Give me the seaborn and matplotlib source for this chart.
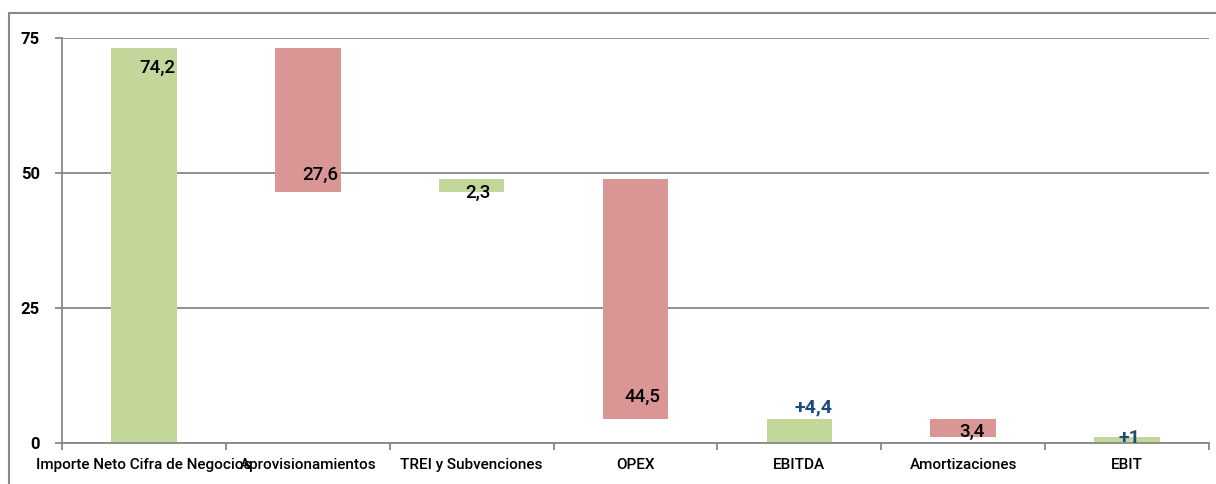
import matplotlib
matplotlib.use("Agg")
import matplotlib.pyplot as plt
import seaborn as sns
import pandas as pd
from matplotlib.lines import Line2D

# ---- data ----
categories = ["Importe Neto Cifra de Negocios", "Aprovisionamientos", "TREI y Subvenciones",
              "OPEX", "EBITDA", "Amortizaciones", "EBIT"]
bar_low = [0.0, 46.5, 46.5, 4.4, 0.0, 1.05, 0.0]
bar_high = [73.15, 73.15, 48.8, 48.8, 4.4, 4.4, 1.05]
kind = ["up", "down", "up", "down", "up", "down", "up"]
labels = ["74,2", "27,6", "2,3", "44,5", "+4,4", "3,4", "+1"]
label_kind = ["plain", "plain", "plain", "plain", "result", "plain", "result"]
y_ticks = [0, 25, 50, 75]

# ---- layout / style ----
GREEN = "#C4D79B"
RED = "#DA9694"
BLUE = "#1F497D"
GREY = "#888888"
label_dx = [0.085, 0.076, 0.04, 0.04, 0.085, 0.055, 0.012]
label_anchor = ["high", "low", "low", "low", "high", "low", "high"]
label_dy = [-3.75, 3.1, -0.2, 4.1, 2.1, 0.95, -0.15]

sns.set_theme(style="white")
plt.rcParams["font.family"] = ["Roboto", "DejaVu Sans"]

W, H = 1216, 484
fig = plt.figure(figsize=(W / 100, H / 100), dpi=100)
ax = fig.add_axes([62 / W, 1 - 443 / H, (1209 - 62) / W, (443 - 38) / H])

df = pd.DataFrame({"cat": categories, "low": bar_low, "high": bar_high, "kind": kind})
df["height"] = df["high"] - df["low"]

for k, col in [("up", GREEN), ("down", RED)]:
    sub = df[df["kind"] == k]
    sns.barplot(x=sub["cat"].tolist(), y=sub["height"].tolist(), order=categories,
                bottom=sub["low"].values, color=col, width=0.4, errorbar=None,
                saturation=1, ax=ax, zorder=2, linewidth=0)

ax.set_ylim(0, 75)
ax.set_xlim(-0.5, len(categories) - 0.5)
ax.set_yticks(y_ticks)
ax.set_yticklabels([str(t) for t in y_ticks], fontsize=12, fontweight="bold", color="black")
ax.yaxis.grid(True, color=GREY, linewidth=1.3, zorder=0)
ax.set_axisbelow(True)

# category labels at centers, tick marks at boundaries
ax.set_xticks([i - 0.5 for i in range(len(categories) + 1)])
ax.set_xticklabels([""] * (len(categories) + 1))
ax.set_xticks(range(len(categories)), minor=True)
ax.set_xticklabels(categories, minor=True, fontsize=11, fontweight=500, color="black")
ax.tick_params(axis="x", which="major", direction="out", length=5, width=1.3, color=GREY, bottom=True)
ax.tick_params(axis="x", which="minor", length=0, pad=11)
ax.tick_params(axis="y", direction="out", length=5, width=1.3, color=GREY, left=True, pad=11)
ax.set_xlabel("")
ax.set_ylabel("")

for s in ["top", "right"]:
    ax.spines[s].set_visible(False)
for s in ["left", "bottom"]:
    ax.spines[s].set_color(GREY)
    ax.spines[s].set_linewidth(1.3)

for i, lab in enumerate(labels):
    base = bar_high[i] if label_anchor[i] == "high" else bar_low[i]
    res = label_kind[i] == "result"
    ax.text(i + label_dx[i], base + label_dy[i], lab, ha="center", va="center",
            fontsize=14 if res else 13.5, fontweight="bold" if res else 500,
            color=BLUE if res else "black", zorder=5)

# outer chart frame
fig.add_artist(Line2D([9 / W, 1.0], [1 - 13 / H, 1 - 13 / H], color=GREY, linewidth=1.5,
                      transform=fig.transFigure))
fig.add_artist(Line2D([9 / W, 9 / W], [0, 1 - 13 / H], color=GREY, linewidth=1.5,
                      transform=fig.transFigure))

fig.savefig("out.png", dpi=100)
